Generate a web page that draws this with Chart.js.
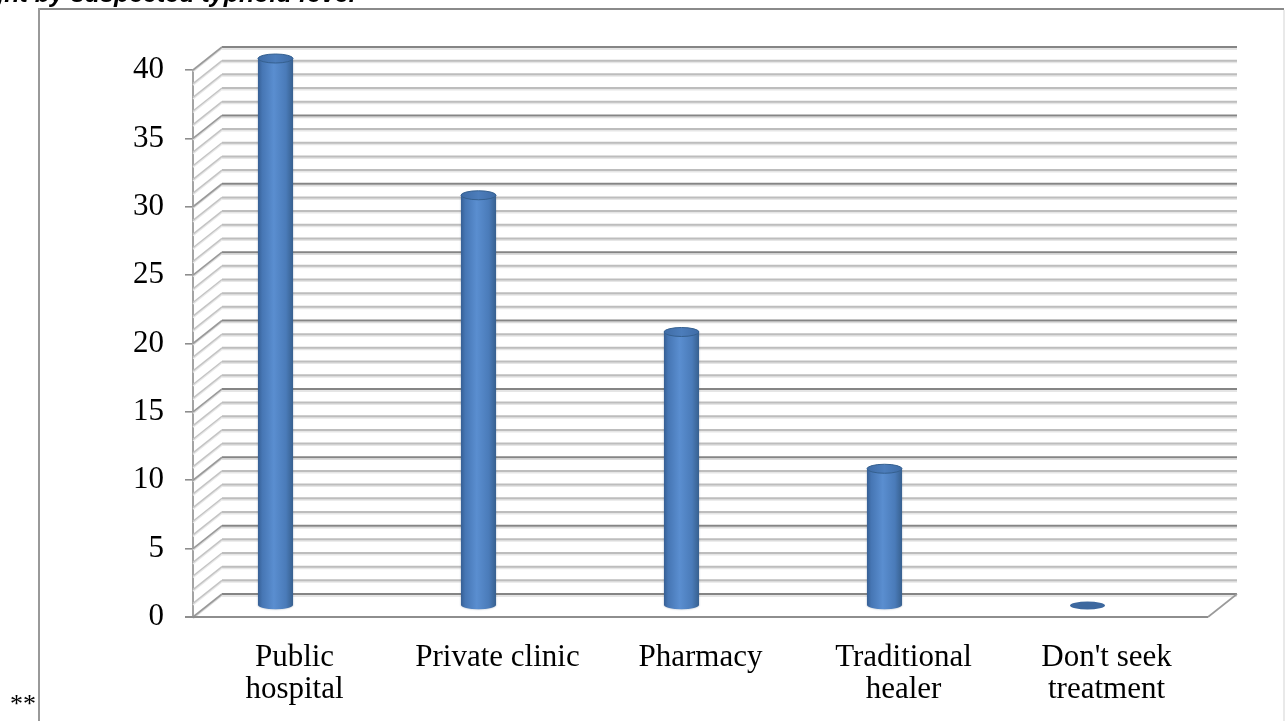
<!DOCTYPE html>
<html>
<head>
<meta charset="utf-8">
<script src="https://cdn.jsdelivr.net/npm/chart.js@4.4.1/dist/chart.umd.min.js"></script>
<style>
  html, body { margin: 0; padding: 0; background: #ffffff; }
  #wrap { width: 1285px; height: 721px; position: relative; overflow: hidden; }
  canvas { display: block; }
</style>
</head>
<body>
<div id="wrap"><canvas id="chart" width="1285" height="721"></canvas></div>
<script>
// Where patients sought treatment
const categories = [["Public", "hospital"], "Private clinic", "Pharmacy", ["Traditional", "healer"], ["Don't seek", "treatment"]];
const seriesValues = [40, 30, 20, 10, 0];
const yTicks = [0, 5, 10, 15, 20, 25, 30, 35, 40];
const gridValues = Array.from({ length: 41 }, (_, i) => i); // one line per unit on the back wall
const titleText = "Treatment sought by suspected typhoid fever";
const footText = "**";

// 3-D look: depth offset of the back wall and cylinder geometry
const DEPTH_X = 29, DEPTH_Y = -23;
const CYL_SHIFT_X = -19, CYL_W = 35, CYL_RY = 4.5;
const SERIF = '"Liberation Serif", "Times New Roman", serif';

function drawCylinder(ctx, cx, yTop, yBot) {
  const x0 = cx - CYL_W / 2, x1 = cx + CYL_W / 2;
  ctx.save();
  if (yBot - yTop < 1) {
    ctx.beginPath();
    ctx.ellipse(cx, yBot, CYL_W / 2, CYL_RY - 0.5, 0, 0, Math.PI * 2);
    ctx.fillStyle = '#3d689f';
    ctx.fill();
    ctx.restore();
    return;
  }
  const g = ctx.createLinearGradient(x0, 0, x1, 0);
  g.addColorStop(0, '#365f94');
  g.addColorStop(0.12, '#4676b4');
  g.addColorStop(0.45, '#5a8ed0');
  g.addColorStop(0.8, '#4a7bb9');
  g.addColorStop(1, '#37608f');
  ctx.shadowColor = 'rgba(40,70,110,0.45)';
  ctx.shadowBlur = 2;
  ctx.beginPath();
  ctx.moveTo(x0, yTop);
  ctx.lineTo(x0, yBot);
  ctx.ellipse(cx, yBot, CYL_W / 2, CYL_RY, 0, Math.PI, 0, true);
  ctx.lineTo(x1, yTop);
  ctx.closePath();
  ctx.fillStyle = g;
  ctx.fill();
  ctx.shadowBlur = 0;
  // top cap
  const tg = ctx.createLinearGradient(x0, 0, x1, 0);
  tg.addColorStop(0, '#3f6ca6');
  tg.addColorStop(0.5, '#4c7dbb');
  tg.addColorStop(1, '#3f6ca6');
  ctx.beginPath();
  ctx.ellipse(cx, yTop, CYL_W / 2, CYL_RY, 0, 0, Math.PI * 2);
  ctx.fillStyle = tg;
  ctx.fill();
  ctx.lineWidth = 1;
  ctx.strokeStyle = '#35608f';
  ctx.stroke();
  ctx.restore();
}

function line(ctx, xa, ya, xb, yb, color, width) {
  ctx.beginPath();
  ctx.moveTo(xa, ya);
  ctx.lineTo(xb, yb);
  ctx.strokeStyle = color;
  ctx.lineWidth = width;
  ctx.stroke();
}

const walls3d = {
  id: 'walls3d',
  beforeDatasetsDraw(chart) {
    const { ctx, chartArea: a, scales: { y } } = chart;
    ctx.save();
    ctx.lineCap = 'butt';
    const bx0 = a.left + DEPTH_X, bx1 = a.right + DEPTH_X;
    // floor
    const yf = y.getPixelForValue(0);
    ctx.beginPath();
    ctx.moveTo(a.left, yf); ctx.lineTo(a.right, yf);
    ctx.lineTo(bx1, yf + DEPTH_Y); ctx.lineTo(bx0, yf + DEPTH_Y);
    ctx.closePath();
    ctx.fillStyle = '#ffffff';
    ctx.fill();
    // back wall and side wall lines
    gridValues.forEach(v => {
      const yp = y.getPixelForValue(v);
      const major = v % 5 === 0;
      const by = yp + DEPTH_Y;
      if (major) {
        line(ctx, bx0, by + 2, bx1, by + 2, '#dcdcdc', 1.5);
        line(ctx, bx0, by, bx1, by, '#858585', 2);
        line(ctx, a.left, yp + 1.5, bx0, by + 1.5, '#dcdcdc', 1.5);
        line(ctx, a.left, yp, bx0, by, '#9a9a9a', 1.6);
      } else {
        line(ctx, bx0, by + 1.5, bx1, by + 1.5, '#e6e6e6', 2);
        line(ctx, bx0, by, bx1, by, '#bdbdbd', 2);
        line(ctx, a.left, yp + 1.5, bx0, by + 1.5, '#e8e8e8', 1.5);
        line(ctx, a.left, yp, bx0, by, '#c4c4c4', 1.5);
      }
    });
    // floor edges
    line(ctx, a.left - 8, yf, a.right, yf, '#8e8e8e', 2);
    line(ctx, a.right, yf, bx1, yf + DEPTH_Y, '#9a9a9a', 1.6);
    ctx.restore();
  },
  afterDatasetsDraw(chart) {
    const { ctx } = chart;
    const meta = chart.getDatasetMeta(0);
    meta.data.forEach(bar => {
      const cx = bar.x + CYL_SHIFT_X;
      drawCylinder(ctx, cx, bar.y + DEPTH_Y / 2, bar.base + DEPTH_Y / 2);
    });
  },
  afterDraw(chart) {
    const { ctx } = chart;
    ctx.save();
    // frame around the chart
    line(ctx, 39, 9, 1284, 9, '#8a8a8a', 2);
    line(ctx, 39, 8, 39, 721, '#999999', 2);
    line(ctx, 1284, 10, 1284, 721, '#e2e2e2', 1.5);
    // heading above the frame
    ctx.font = 'italic bold 25px "Liberation Sans", Arial, sans-serif';
    ctx.fillStyle = '#000000';
    ctx.textBaseline = 'alphabetic';
    ctx.textAlign = 'left';
    const lead = ctx.measureText('Treatment sought b').width;
    ctx.fillText(titleText, 50 - lead, 2);
    // footnote marker
    ctx.font = '26px ' + SERIF;
    ctx.fillText(footText, 10, 712);
    ctx.restore();
  }
};

new Chart(document.getElementById('chart'), {
  type: 'bar',
  data: {
    labels: categories,
    datasets: [{
      data: seriesValues,
      backgroundColor: 'rgba(0,0,0,0)',
      borderWidth: 0
    }]
  },
  options: {
    responsive: false,
    animation: false,
    devicePixelRatio: 1,
    layout: { padding: { left: 0, top: 70, right: 77, bottom: 0 } },
    plugins: { legend: { display: false }, tooltip: { enabled: false }, title: { display: false } },
    scales: {
      x: {
        grid: { display: false, drawTicks: false },
        border: { display: false },
        ticks: {
          color: '#000000',
          padding: 24,
          maxRotation: 0,
          autoSkip: false,
          font: { family: SERIF, size: 31, lineHeight: 1.06 }
        },
        afterFit(s) { s.height = 104; }
      },
      y: {
        min: 0,
        max: 40,
        afterBuildTicks(s) { s.ticks = yTicks.map(v => ({ value: v })); },
        grid: { drawOnChartArea: false, drawTicks: true, tickLength: 8, color: '#8e8e8e', lineWidth: 1.6 },
        border: { display: true, color: '#a3a3a3', width: 2 },
        ticks: {
          color: '#000000',
          padding: 21,
          font: { family: SERIF, size: 31 }
        },
        afterFit(s) { s.width = 193; }
      }
    }
  },
  plugins: [walls3d]
});
</script>
</body>
</html>
